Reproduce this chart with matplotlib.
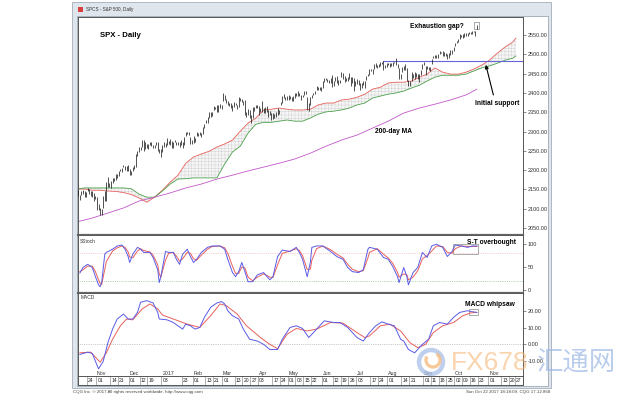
import matplotlib
matplotlib.use('Agg')
import matplotlib.pyplot as plt
import matplotlib.patches as patches
from matplotlib.transforms import IdentityTransform
import pandas as pd

plt.rcParams['font.family'] = ['Liberation Sans', 'DejaVu Sans']
plt.rcParams['hatch.linewidth'] = 0.3

# trading calendar (NYSE holidays skipped, like the CQG chart)
holidays = ['2016-11-24', '2016-12-26', '2017-01-02', '2017-01-16', '2017-02-20',
            '2017-04-14', '2017-05-29', '2017-07-04', '2017-09-04', '2017-11-23']
days = pd.bdate_range('2016-10-13', '2017-12-01', freq='C', holidays=holidays)

# S&P 500 daily lows / highs, Oct 13 2016 .. Oct 20 2017
spx_low = [
    2114, 2132, 2124, 2135, 2137, 2131, 2131, 2145, 2139, 2132,
    2131, 2119, 2125, 2097, 2097, 2083, 2084, 2101, 2120, 2120,
    2157, 2156, 2154, 2166, 2172, 2175, 2180, 2186, 2198, 2196,
    2207, 2201, 2199, 2198, 2187, 2187, 2197, 2203, 2209, 2238,
    2248, 2253, 2259, 2250, 2254, 2257, 2256, 2264, 2263, 2257,
    2258, 2266, 2249, 2244, 2234, 2246, 2261, 2260, 2264, 2268,
    2265, 2258, 2257, 2272, 2265, 2264, 2259, 2265, 2257, 2265,
    2288, 2294, 2292, 2268, 2267, 2271, 2272, 2288, 2288, 2290,
    2286, 2295, 2309, 2321, 2321, 2334, 2338, 2340, 2355, 2358,
    2352, 2352, 2361, 2358, 2380, 2381, 2375, 2368, 2366, 2362,
    2354, 2365, 2368, 2358, 2365, 2378, 2377, 2370, 2343, 2337,
    2342, 2334, 2322, 2335, 2353, 2360, 2362, 2344, 2350, 2351,
    2347, 2349, 2351, 2337, 2343, 2329, 2332, 2334, 2337, 2342,
    2345, 2370, 2375, 2386, 2382, 2381, 2382, 2385, 2380, 2380,
    2388, 2391, 2392, 2393, 2381, 2389, 2394, 2397, 2357, 2353,
    2368, 2386, 2396, 2397, 2408, 2409, 2408, 2404, 2414, 2428,
    2434, 2429, 2425, 2427, 2416, 2419, 2432, 2425, 2422, 2425,
    2441, 2437, 2429, 2431, 2431, 2436, 2419, 2425, 2406, 2419,
    2423, 2420, 2407, 2413, 2421, 2413, 2435, 2443, 2447, 2457,
    2450, 2463, 2468, 2465, 2467, 2471, 2476, 2459, 2464, 2468,
    2472, 2467, 2471, 2470, 2477, 2472, 2464, 2437, 2437, 2455,
    2460, 2460, 2430, 2417, 2418, 2432, 2439, 2436, 2442, 2437,
    2428, 2446, 2462, 2472, 2447, 2462, 2459, 2458, 2474, 2490,
    2492, 2492, 2491, 2500, 2503, 2496, 2496, 2496, 2488, 2492,
    2499, 2502, 2509, 2521, 2529, 2533, 2540, 2545, 2542, 2546,
    2548, 2547, 2552, 2552, 2554, 2559, 2548, 2567,
]
spx_high = [
    2138, 2149, 2135, 2145, 2148, 2147, 2143, 2155, 2152, 2145,
    2147, 2140, 2134, 2131, 2112, 2102, 2099, 2132, 2146, 2170,
    2182, 2166, 2171, 2181, 2179, 2189, 2190, 2199, 2204, 2205,
    2214, 2211, 2210, 2214, 2202, 2197, 2209, 2213, 2242, 2250,
    2260, 2260, 2278, 2277, 2273, 2268, 2268, 2272, 2272, 2265,
    2264, 2274, 2272, 2255, 2254, 2264, 2273, 2271, 2283, 2276,
    2280, 2276, 2272, 2279, 2273, 2272, 2274, 2277, 2273, 2285,
    2300, 2300, 2300, 2286, 2279, 2289, 2283, 2299, 2296, 2300,
    2296, 2311, 2320, 2331, 2338, 2351, 2352, 2352, 2367, 2365,
    2368, 2368, 2371, 2368, 2401, 2395, 2384, 2379, 2375, 2374,
    2369, 2376, 2374, 2369, 2390, 2388, 2385, 2379, 2382, 2350,
    2358, 2357, 2343, 2363, 2363, 2370, 2370, 2366, 2361, 2378,
    2361, 2364, 2366, 2356, 2353, 2348, 2349, 2345, 2352, 2361,
    2357, 2377, 2392, 2398, 2390, 2393, 2394, 2392, 2389, 2392,
    2399, 2401, 2404, 2400, 2396, 2395, 2404, 2406, 2389, 2375,
    2390, 2396, 2400, 2405, 2418, 2416, 2415, 2415, 2430, 2440,
    2439, 2437, 2434, 2439, 2446, 2431, 2441, 2443, 2433, 2434,
    2454, 2451, 2443, 2440, 2441, 2451, 2442, 2442, 2438, 2430,
    2436, 2435, 2425, 2427, 2432, 2430, 2445, 2449, 2463, 2463,
    2461, 2474, 2477, 2472, 2474, 2480, 2481, 2484, 2473, 2478,
    2478, 2479, 2477, 2480, 2481, 2491, 2475, 2466, 2449, 2468,
    2469, 2475, 2466, 2433, 2430, 2454, 2449, 2454, 2452, 2450,
    2448, 2460, 2475, 2481, 2471, 2469, 2468, 2467, 2489, 2497,
    2498, 2498, 2500, 2508, 2507, 2509, 2507, 2503, 2502, 2503,
    2511, 2511, 2520, 2530, 2535, 2541, 2552, 2550, 2552, 2555,
    2555, 2555, 2557, 2558, 2560, 2562, 2562, 2575,
]

# Ichimoku cloud (read every 5 sessions), red = span A, green = span B
cloud_days = list(range(0, 281, 5)) + [282]
span_a = [2151, 2151, 2148, 2148, 2146, 2145, 2142, 2137, 2128, 2117,
          2130, 2148, 2169, 2187, 2218, 2234, 2242, 2249, 2260, 2268,
          2278, 2301, 2322, 2335, 2356, 2358, 2361, 2358, 2356, 2356,
          2358, 2369, 2374, 2374, 2382, 2384, 2389, 2397, 2410, 2415,
          2426, 2428, 2428, 2431, 2441, 2449, 2465, 2454, 2449, 2449,
          2454, 2462, 2472, 2485, 2503, 2519, 2532, 2542]
span_b = [2151, 2154, 2154, 2154, 2154, 2154, 2154, 2152, 2138, 2130,
          2130, 2146, 2164, 2177, 2178, 2180, 2180, 2180, 2180, 2216,
          2247, 2262, 2296, 2319, 2324, 2324, 2327, 2330, 2327, 2327,
          2335, 2345, 2351, 2353, 2356, 2361, 2369, 2374, 2387, 2392,
          2397, 2400, 2405, 2413, 2420, 2431, 2441, 2446, 2446, 2446,
          2449, 2457, 2465, 2470, 2477, 2485, 2490, 2496]

# 200-day moving average
ma_days = list(range(0, 251, 10)) + [257]
ma200 = [2066, 2076, 2089, 2102, 2120, 2130, 2141, 2154, 2164, 2177,
         2187, 2198, 2208, 2218, 2229, 2244, 2262, 2278, 2291, 2309,
         2327, 2348, 2361, 2371, 2382, 2395, 2410]

# slow stochastic (%K blue, %D red)
stoch_days = [2, 4, 7, 10, 12, 14, 15, 16, 18, 19, 23, 26, 29, 31, 33, 34, 36, 39, 41, 43,
              47, 49, 52, 53, 54, 57, 59, 62, 64, 66, 68, 71, 73, 75, 77, 80, 84, 87, 92, 95,
              97, 100, 102, 104, 106, 108, 110, 113, 116, 120, 124, 126, 129, 132, 137, 141, 143, 145, 148, 150,
              151, 154, 158, 163, 167, 171, 174, 177, 181, 184, 187, 188, 193, 197, 200, 203, 206, 207, 210, 212,
              213, 216, 219, 222, 225, 228, 231, 235, 238, 241, 243, 247, 251, 254, 257]
stoch_k = [37, 49, 56, 49, 29, 11, 7, 16, 78, 82, 89, 96, 98, 89, 73, 60, 78, 93, 89, 82,
           82, 71, 44, 16, 29, 84, 82, 82, 67, 56, 78, 89, 73, 60, 67, 82, 93, 96, 96, 89,
           67, 38, 29, 40, 60, 40, 18, 18, 33, 38, 22, 29, 73, 87, 84, 93, 82, 67, 29, 60,
           93, 96, 96, 84, 73, 67, 49, 40, 38, 44, 89, 93, 89, 71, 67, 51, 29, 16, 49, 29,
           11, 38, 49, 82, 71, 96, 100, 93, 73, 84, 98, 96, 93, 96, 96]
stoch_d = [40, 44, 52, 52, 40, 22, 14, 12, 45, 62, 85, 92, 96, 93, 83, 72, 70, 85, 90, 86,
           83, 76, 55, 35, 28, 65, 80, 82, 74, 63, 68, 82, 80, 68, 65, 76, 89, 95, 96, 92,
           80, 52, 36, 36, 50, 48, 28, 20, 28, 35, 28, 27, 55, 80, 85, 90, 86, 75, 45, 45,
           65, 90, 96, 88, 78, 70, 56, 45, 40, 42, 70, 82, 90, 78, 70, 58, 38, 28, 35, 33,
           22, 28, 42, 68, 75, 85, 96, 95, 82, 80, 90, 96, 95, 95, 95]

# MACD (blue) and signal (red)
macd_days = [2, 7, 10, 12, 14, 17, 20, 23, 26, 30, 33, 36, 39, 41, 45, 49, 52, 53, 58, 62,
             68, 70, 73, 76, 79, 82, 86, 90, 93, 95, 97, 100, 104, 107, 111, 116, 120, 124, 129, 132,
             137, 141, 145, 149, 152, 156, 159, 165, 169, 174, 180, 184, 188, 192, 196, 200, 204, 208, 210, 213,
             217, 222, 226, 229, 233, 238, 242, 246, 251, 254, 257]
macd_line = [-6.1, -4.7, -5.5, -10.2, -14.8, -10.2, 1.0, 9.2, 15.3, 18.3, 15.3, 15.3, 19.3, 25.4, 26.4, 25.0, 19.3, 15.3, 14.8, 13.2,
             9.2, 12.2, 11.2, 9.2, 10.2, 16.3, 22.4, 25.0, 25.8, 24.4, 20.3, 17.3, 15.3, 9.2, 3.1, 2.0, 0.0, -3.1, -3.1, 3.1,
             10.2, 11.2, 9.6, 4.1, 7.1, 11.2, 14.2, 13.2, 13.2, 10.2, 4.1, 2.0, 7.1, 11.2, 13.6, 12.2, 11.2, 3.1, 2.0, -3.1,
             -5.1, 0.0, 3.1, 11.2, 13.2, 12.2, 16.3, 19.3, 20.3, 19.7, 19.3]
signal_days = [2, 9, 15, 19, 23, 28, 32, 36, 42, 47, 52, 55, 62, 71, 79, 86, 92, 96, 103, 109,
               118, 124, 129, 135, 141, 148, 154, 163, 171, 180, 185, 188, 195, 201, 208, 214, 219, 224, 229, 235,
               242, 248, 253, 257]
signal_line = [-5.1, -4.7, -10.8, -5.1, 3.1, 11.2, 15.3, 14.8, 21.4, 24.4, 21.4, 17.7, 15.3, 12.2, 10.2, 17.3, 24.4, 23.4, 18.3, 11.2,
               4.1, 0.0, -2.6, 6.1, 9.6, 8.1, 9.2, 13.2, 12.8, 7.1, 4.1, 5.1, 11.2, 12.2, 8.1, 1.0, -2.0, 0.0, 7.1, 11.2,
               13.2, 17.3, 19.0, 19.3]

price_ticks = [2050, 2100, 2150, 2200, 2250, 2300, 2350, 2400, 2450, 2500, 2550]
stoch_ticks = [0, 50, 100]
macd_ticks = [-10, 0, 10, 20]

day_labels = ['2016-10-24', '2016-11-01', '2016-11-14', '2016-11-21', '2016-12-01', '2016-12-12',
              '2016-12-19', '2017-01-03', '2017-01-23', '2017-02-01', '2017-02-13', '2017-02-21',
              '2017-03-01', '2017-03-13', '2017-03-20', '2017-03-27', '2017-04-03', '2017-04-17',
              '2017-04-24', '2017-05-01', '2017-05-08', '2017-05-15', '2017-05-22', '2017-06-01',
              '2017-06-12', '2017-06-19', '2017-06-26', '2017-07-03', '2017-07-17', '2017-07-24',
              '2017-08-01', '2017-08-14', '2017-08-21', '2017-09-01', '2017-09-11', '2017-09-18',
              '2017-09-25', '2017-10-02', '2017-10-09', '2017-10-16', '2017-10-23', '2017-11-01',
              '2017-11-13', '2017-11-20', '2017-11-27']
month_starts = ['2016-11-01', '2016-12-01', '2017-01-03', '2017-02-01', '2017-03-01', '2017-04-03',
                '2017-05-01', '2017-06-01', '2017-07-03', '2017-08-01', '2017-09-01', '2017-10-02',
                '2017-11-01']
month_names = ['Nov', 'Dec', '2017', 'Feb', 'Mar', 'Apr', 'May', 'Jun', 'Jul', 'Aug', 'Sep', 'Oct', 'Nov']


def pos(d):
    return days.get_loc(pd.Timestamp(d))


W, H = 638, 400


def fx(px):
    return px / W


def fy(py):
    return 1 - py / H


fig = plt.figure(figsize=(6.38, 4.0), dpi=100)

# window frame
fig.add_artist(patches.Rectangle((fx(72), fy(388)), fx(551) - fx(72), 386 / H, transform=fig.transFigure,
                                 facecolor='#dfe5ec', edgecolor='#a5afba', lw=0.6, zorder=-5))
fig.add_artist(patches.Rectangle((fx(77), fy(386)), fx(548) - fx(77), 370 / H, transform=fig.transFigure,
                                 facecolor='white', edgecolor='#8d99a6', lw=0.5, zorder=-4))
fig.add_artist(patches.Rectangle((fx(78), fy(12)), fx(5), 5 / H, transform=fig.transFigure,
                                 facecolor='#d84040', edgecolor='none', zorder=-3))
fig.text(fx(86), fy(9.5), 'SPCS - S&P 500, Daily', fontsize=3.3, color='#333', va='center')
fig.text(fx(73), fy(392.5), 'CQG Inc. \u00a9 2017 All rights reserved worldwide. http://www.cqg.com',
         fontsize=3.2, color='#444', va='center')
fig.text(fx(550), fy(392.5), 'Sun Oct 22 2017 18:18:09, CQG 17.12.868', fontsize=3.2, color='#444',
         va='center', ha='right')

x0, x1 = 0.8, 286.6
pw = fx(523) - fx(78)
ax_p = fig.add_axes([fx(78), fy(235), pw, 218 / H])
ax_s = fig.add_axes([fx(78), fy(293), pw, 58 / H])
ax_m = fig.add_axes([fx(78), fy(376), pw, 83 / H])
ax_d = fig.add_axes([fx(78), fy(385), pw, 9 / H])

for ax in (ax_p, ax_s, ax_m, ax_d):
    ax.set_xlim(x0, x1)
    ax.set_xticks([])
    for s in ax.spines.values():
        s.set_color('#555')
        s.set_linewidth(0.7)
for ax in (ax_p, ax_s):
    ax.spines['bottom'].set_linewidth(1.6)
    ax.spines['bottom'].set_color('#666')

# price panel
bar_x = list(range(len(spx_low)))
ax_p.fill_between(cloud_days, span_a, span_b, facecolor='#f6f6f6', edgecolor='#cdcdcd',
                  hatch='+++++', linewidth=0, zorder=1)
ax_p.plot(cloud_days, span_a, color='#e8605a', lw=0.6, zorder=2)
ax_p.plot(cloud_days, span_b, color='#4aa04a', lw=0.6, zorder=2)
ax_p.plot(ma_days, ma200, color='#c058c8', lw=0.6, zorder=2)
ax_p.vlines(bar_x, spx_low, spx_high, color='#222', lw=0.55, zorder=3)
ax_p.plot([pos('2017-07-27'), x1], [2484, 2484], color='#6464d8', lw=0.8, zorder=2)
ax_p.set_ylim(2032, 2597)
ax_p.yaxis.tick_right()
ax_p.set_yticks(price_ticks)
ax_p.set_yticklabels([f'{v:.2f}' for v in price_ticks])

ax_p.text(0.05, 0.917, 'SPX - Daily', transform=ax_p.transAxes, fontsize=5.6, fontweight='bold',
          va='center', ha='left')
ax_p.text(248.7, 2573, 'Exhaustion gap?', fontsize=4.8, fontweight='bold', ha='right', va='center')
ax_p.add_patch(patches.Rectangle((255.3, 2566), 3.2, 19, fill=False, edgecolor='#888', lw=0.5))
ax_p.text(270, 2372, 'Initial support', fontsize=4.8, fontweight='bold', ha='center', va='center')
ax_p.annotate('', xy=(262.3, 2480), xytext=(268, 2388),
              arrowprops=dict(arrowstyle='-|>', color='black', lw=0.8, mutation_scale=5))
ax_p.text(191.5, 2301, '200-day MA', fontsize=4.8, fontweight='bold', ha='left', va='center')

# stochastic panel
ax_s.axhline(80, color='#f0a0a0', lw=0.5, ls=':')
ax_s.axhline(20, color='#70b870', lw=0.5, ls=':')
ax_s.plot(stoch_days, stoch_d, color='#e8605a', lw=0.7)
ax_s.plot(stoch_days, stoch_k, color='#5a5ae6', lw=0.7)
ax_s.set_ylim(-6.7, 120)
ax_s.yaxis.tick_right()
ax_s.set_yticks(stoch_ticks)
ax_s.text(0.005, 0.93, 'SStoch', transform=ax_s.transAxes, fontsize=3.5, color='#333', va='top')
ax_s.text(282, 104, 'S-T overbought', fontsize=4.8, fontweight='bold', ha='right', va='center')
ax_s.add_patch(patches.Rectangle((241.5, 78), 16.3, 22, fill=False, edgecolor='#888', lw=0.5))

# MACD panel
ax_m.axhline(0, color='#999', lw=0.5, ls=':')
ax_m.plot(signal_days, signal_line, color='#e8605a', lw=0.7)
ax_m.plot(macd_days, macd_line, color='#5a5ae6', lw=0.7)
ax_m.set_ylim(-19.1, 31)
ax_m.yaxis.tick_right()
ax_m.set_yticks(macd_ticks)
ax_m.set_yticklabels([f'{v:.2f}' for v in macd_ticks])
ax_m.text(0.005, 0.97, 'MACD', transform=ax_m.transAxes, fontsize=3.5, color='#333', va='top')
ax_m.text(281, 24, 'MACD whipsaw', fontsize=4.8, fontweight='bold', ha='right', va='center')
ax_m.add_patch(patches.Rectangle((252, 17.5), 6, 3.6, fill=False, edgecolor='#888', lw=0.5))
for d, name in zip(month_starts, month_names):
    ax_m.text(pos(d), 0.005, name, transform=ax_m.get_xaxis_transform(), fontsize=3.8,
              color='#333', ha='left', va='bottom')

for ax in (ax_p, ax_s, ax_m):
    ax.tick_params(axis='y', labelsize=4, length=2, width=0.4, pad=1.5, colors='#333')

# date strip
ax_d.set_ylim(0, 1)
ax_d.set_yticks([])
for d in day_labels:
    i = pos(d)
    ax_d.axvline(i - 0.6, color='#777', lw=0.4)
    ax_d.text(i + 0.2, 0.45, pd.Timestamp(d).strftime('%d'), fontsize=3.6, color='#222',
              ha='left', va='center')

# watermark
ident = IdentityTransform()
fig.add_artist(patches.Circle((431, H - 362), 12, transform=ident, fill=False,
                              edgecolor='#a9c1e8', lw=3.2, alpha=0.75, zorder=10))
fig.add_artist(patches.Arc((433, H - 360), 14, 14, theta1=150, theta2=420, transform=ident,
                           edgecolor='#f5bd80', lw=2.4, alpha=0.8, zorder=10))
fig.text(fx(451), fy(363), 'FX678', fontsize=19, color='#f5b878', alpha=0.6, va='center', zorder=10)
fig.text(fx(537), fy(363), '汇通网', family=['Noto Sans CJK SC', 'DejaVu Sans'], fontsize=19,
         color='#9db8e6', alpha=0.7, va='center', zorder=10)

fig.savefig('out.png', dpi=100)
